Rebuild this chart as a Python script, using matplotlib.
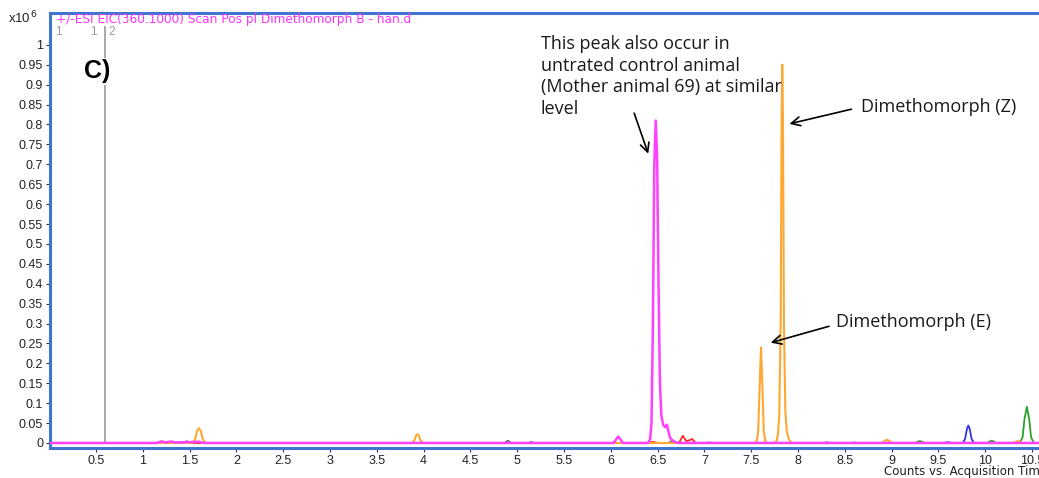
import numpy as np
import matplotlib.pyplot as plt

# -----------------------
# EIC traces (retention time in min, counts x10^6)
# -----------------------
pink_rt = [0.0, 1.15, 1.2, 1.25, 1.3, 1.35, 1.6, 1.65, 6.03, 6.06, 6.08, 6.10, 6.13,
           6.40, 6.42, 6.435, 6.45, 6.465, 6.48, 6.495, 6.51, 6.525, 6.54, 6.56, 6.58,
           6.60, 6.615, 6.63, 6.65, 6.68, 6.72, 10.6]
pink_int = [0, 0, 0.004, 0.001, 0.004, 0.001, 0.003, 0, 0, 0.01, 0.016, 0.01, 0,
            0, 0.01, 0.05, 0.3, 0.7, 0.81, 0.72, 0.4, 0.15, 0.07, 0.045, 0.04,
            0.046, 0.03, 0.015, 0.008, 0.003, 0, 0]

orange_rt = [0.0, 1.53, 1.56, 1.58, 1.60, 1.62, 1.64, 1.67,
             3.88, 3.905, 3.92, 3.935, 3.95, 3.965, 3.99,
             7.54, 7.56, 7.575, 7.59, 7.605, 7.62, 7.635, 7.65, 7.67,
             7.74, 7.77, 7.785, 7.80, 7.815, 7.825, 7.832, 7.84, 7.85, 7.865, 7.88, 7.90, 7.93,
             8.9, 8.93, 8.95, 8.97, 9.0, 10.3, 10.35, 10.4, 10.6]
orange_int = [0, 0, 0.01, 0.03, 0.037, 0.03, 0.01, 0,
              0, 0.008, 0.019, 0.022, 0.018, 0.007, 0,
              0, 0.005, 0.03, 0.14, 0.24, 0.14, 0.03, 0.005, 0,
              0, 0.004, 0.02, 0.07, 0.3, 0.8, 0.95, 0.8, 0.3, 0.08, 0.03, 0.01, 0,
              0, 0.006, 0.008, 0.006, 0, 0, 0.005, 0, 0]

blue_rt = [0.0, 1.18, 1.25, 1.32, 1.45, 1.55, 1.62, 9.55, 9.6, 9.65,
           9.76, 9.785, 9.805, 9.82, 9.835, 9.855, 9.88, 10.6]
blue_int = [0, 0, 0.003, 0.001, 0.002, 0.002, 0, 0, 0.002, 0,
            0, 0.01, 0.035, 0.044, 0.035, 0.01, 0, 0]

green_rt = [0.0, 9.25, 9.3, 9.36, 10.02, 10.07, 10.12,
            10.37, 10.4, 10.42, 10.445, 10.47, 10.49, 10.52, 10.6]
green_int = [0, 0, 0.005, 0, 0, 0.006, 0,
             0, 0.015, 0.06, 0.091, 0.06, 0.015, 0, 0]

red_rt = [0.0, 1.15, 1.22, 1.3, 6.4, 6.45, 6.5, 6.73, 6.755, 6.77, 6.785, 6.81, 6.84,
          6.87, 6.89, 6.91, 8.28, 8.31, 8.34, 10.6]
red_int = [0, 0, 0.003, 0, 0, 0.003, 0, 0, 0.012, 0.018, 0.012, 0.004, 0.007,
           0.01, 0.004, 0, 0, 0.002, 0, 0]

grey_rt = [0.0, 1.43, 1.47, 1.51, 4.86, 4.9, 4.94, 5.12, 5.15, 5.18, 6.62, 6.66, 6.7,
           7.0, 7.05, 7.1, 8.57, 8.6, 8.63, 10.6]
grey_int = [0, 0, 0.005, 0, 0, 0.006, 0, 0, 0.003, 0, 0, 0.008, 0,
            0, 0.002, 0, 0, 0.002, 0, 0]

x_ticks = [0.5, 1, 1.5, 2, 2.5, 3, 3.5, 4, 4.5, 5, 5.5, 6, 6.5, 7, 7.5, 8, 8.5, 9, 9.5, 10, 10.5]
y_ticks = [0, 0.05, 0.1, 0.15, 0.2, 0.25, 0.3, 0.35, 0.4, 0.45, 0.5, 0.55, 0.6, 0.65,
           0.7, 0.75, 0.8, 0.85, 0.9, 0.95, 1]
marker_rt = 0.6

# -----------------------
# Figure
# -----------------------
fig = plt.figure(figsize=(10.39, 4.78), dpi=100)
ax = fig.add_axes([50 / 1039, 30 / 478, 989 / 1039, 435 / 478])

ax.axvline(marker_rt, ymin=0.012, ymax=0.968, color='#9a9a9a', lw=1.2, zorder=1)

line_kw = dict(solid_joinstyle='round', solid_capstyle='round')
ax.plot(grey_rt, grey_int, color='#555555', lw=1, zorder=2, **line_kw)
ax.plot(green_rt, green_int, color='#2ca02c', lw=1.3, zorder=2, **line_kw)
ax.plot(blue_rt, blue_int, color='#3333ee', lw=1.3, zorder=2, **line_kw)
ax.plot(red_rt, red_int, color='#ff2a2a', lw=1.3, zorder=2, **line_kw)
ax.plot(orange_rt, orange_int, color='#ffa733', lw=1.5, zorder=3, **line_kw)
ax.plot(pink_rt, pink_int, color='#ff40ff', lw=1.8, zorder=4, **line_kw)

ax.set_xlim(0.0085, 10.575)
ax.set_ylim(-0.0126, 1.08)

ax.set_xticks(x_ticks)
ax.set_xticklabels([f'{t:g}' for t in x_ticks])
ax.set_yticks(y_ticks)
ax.set_yticklabels([f'{t:g}' for t in y_ticks])
ax.tick_params(labelsize=9, length=3, width=0.8, color='#333333', labelcolor='#222222', pad=2)
for lab in ax.get_xticklabels() + ax.get_yticklabels():
    lab.set_family('Liberation Sans')

for side in ['left', 'top', 'bottom']:
    ax.spines[side].set_color('#3f74cf')
    ax.spines[side].set_linewidth(2.2)
ax.spines['right'].set_visible(False)

# header texts
fig.text(8 / 1039, 1 - 18 / 478, r'x10$^{\,6}$', fontsize=9.5, family='Liberation Sans',
         color='#222222', va='center')
fig.text(56 / 1039, 1 - 19.5 / 478, '+/-ESI EIC(360.1000) Scan Pos pl Dimethomorph B - han.d',
         fontsize=8.7, family='DejaVu Sans', color='#ff33ff', va='center')
fig.text(55 / 1039, 1 - 32 / 478, '1', fontsize=8.5, family='Liberation Sans', color='#999999', va='center')
fig.text(90 / 1039, 1 - 32 / 478, '1', fontsize=8.5, family='Liberation Sans', color='#999999', va='center')
fig.text(108 / 1039, 1 - 32 / 478, '2', fontsize=8.5, family='Liberation Sans', color='#999999', va='center')

fig.text(84 / 1039, 1 - 71 / 478, 'C)', fontsize=18, fontweight='bold', family='Liberation Sans',
         va='center', bbox=dict(facecolor='white', edgecolor='none', pad=1))

# annotations
arrow = dict(arrowstyle='->', color='black', lw=1.2, mutation_scale=16)
ax.text(5.25, 1.025, 'This peak also occur in\nuntrated control animal\n(Mother animal 69) at similar\nlevel',
        fontsize=13, family='Open Sans', ha='left', va='top', linespacing=1.27, color='#1a1a1a')
ax.annotate('', xy=(6.41, 0.72), xytext=(6.24, 0.835), arrowprops=arrow)
ax.text(8.67, 0.845, 'Dimethomorph (Z)', fontsize=13, family='Open Sans', va='center', color='#1a1a1a')
ax.annotate('', xy=(7.88, 0.8), xytext=(8.6, 0.84), arrowprops=arrow)
ax.text(8.41, 0.305, 'Dimethomorph (E)', fontsize=13, family='Open Sans', va='center', color='#1a1a1a')
ax.annotate('', xy=(7.68, 0.25), xytext=(8.36, 0.295), arrowprops=arrow)

fig.text(884 / 1039, 1 - 472 / 478, 'Counts vs. Acquisition Time (min)', fontsize=8.5,
         family='DejaVu Sans', color='#222222', va='center')

plt.savefig('out.png', dpi=100)
